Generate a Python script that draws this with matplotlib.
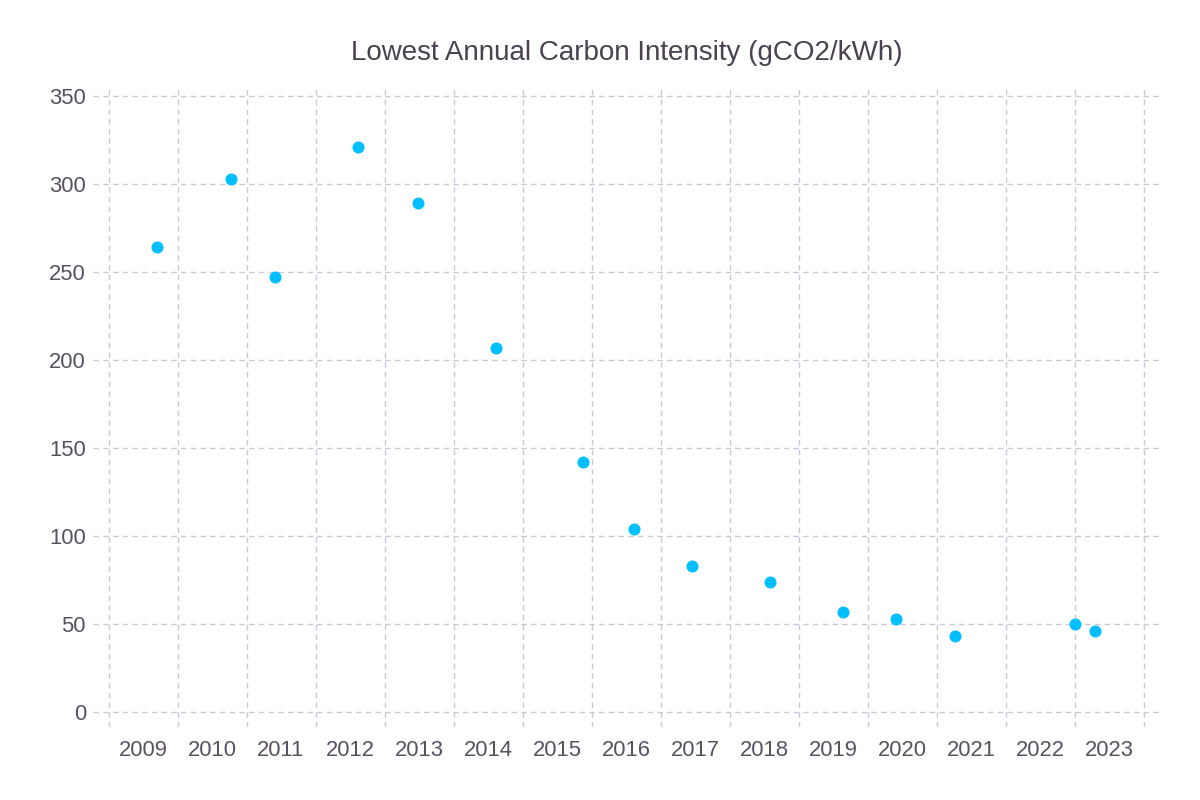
import datetime as dt
import matplotlib
matplotlib.use("Agg")
import matplotlib.pyplot as plt
import matplotlib.dates as mdates

# dates of the lowest reading in each year
dates = ["2009-09-13", "2010-10-12", "2011-06-03", "2012-08-14", "2013-06-28",
         "2014-08-14", "2015-11-17", "2016-08-11", "2017-06-14", "2018-07-30",
         "2019-08-22", "2020-05-29", "2021-04-08", "2022-12-31", "2023-04-15"]
intensity = [264, 303, 247, 321, 289, 207, 142, 104, 83, 74, 57, 53, 43, 50, 46]
years = list(range(2009, 2025))

x = [dt.datetime.strptime(d, "%Y-%m-%d") for d in dates]

text_col = "#595060"
grid_col = "#cbc8da"

plt.rcParams["font.family"] = ["Liberation Sans", "DejaVu Sans"]

fig = plt.figure(figsize=(12, 8), dpi=100)
ax = fig.add_axes([0.0775, 0.09125, 0.8892, 0.79875])

ax.scatter(x, intensity, s=75, color="#00bfff", zorder=3, linewidths=0)

# year boundaries as grid, labels centred in the middle of each year
ax.set_xticks([dt.datetime(y, 1, 1) for y in years])
ax.set_xticklabels([])
ax.set_xticks([dt.datetime(y, 7, 2) for y in years[:-1]], minor=True)
ax.set_xticklabels([str(y) for y in years[:-1]], minor=True)
ax.tick_params(axis="x", which="minor", length=0, pad=9, labelsize=15.8, labelcolor=text_col)
ax.tick_params(axis="x", which="major", length=0)
ax.tick_params(axis="y", length=0, pad=5, labelsize=15.8, labelcolor=text_col)

ax.set_xlim(dt.datetime(2008, 10, 11), dt.datetime(2024, 3, 25))
ax.set_ylim(-8.5, 354.5)
ax.set_yticks(range(0, 351, 50))

ax.grid(True, which="major", color=grid_col, linestyle=(0, (4, 3)), linewidth=1)
for s in ax.spines.values():
    s.set_visible(False)

ax.set_title("Lowest Annual Carbon Intensity (gCO2/kWh)", fontsize=20, color="#4a4250", pad=20)

fig.savefig("out.png", dpi=100)
